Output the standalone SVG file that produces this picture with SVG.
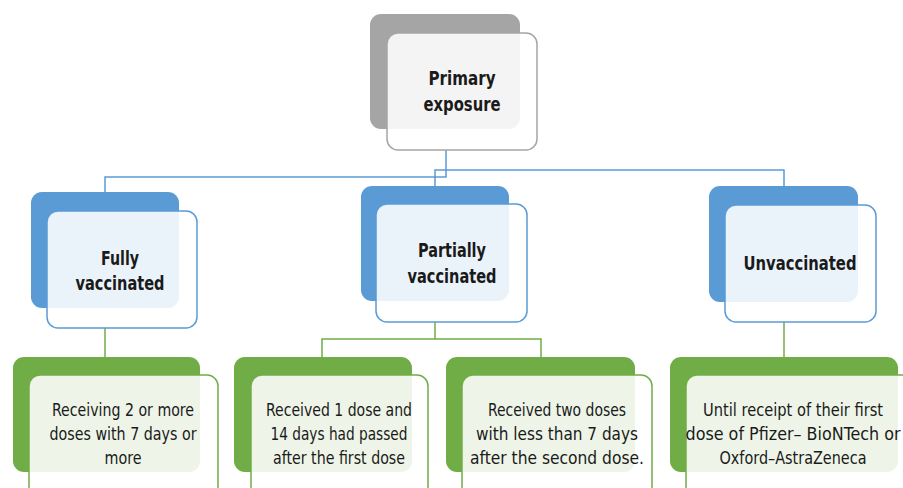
<svg xmlns="http://www.w3.org/2000/svg" width="903" height="488" viewBox="0 0 903 488">
<style>
.bg{fill:#ffffff}
.back-gray{fill:#a5a5a5}
.back-blue{fill:#5b9bd5}
.back-green{fill:#70ad47}
.front{fill:#ffffff;fill-opacity:0.88;stroke-width:1.5}
.f-gray{stroke:#a5a5a5}
.f-blue{stroke:#5b9bd5}
.f-green{stroke:#70ad47}
.conn-blue{fill:none;stroke:#5b9bd5;stroke-width:1.5}
.conn-green{fill:none;stroke:#70ad47;stroke-width:1.5}
text{font-family:"DejaVu Sans Condensed","Liberation Sans",sans-serif;fill:#1a1a1a;text-anchor:middle}
.h{font-size:20px;font-weight:bold}
.b{font-size:18px}
</style>
<rect class="bg" x="0" y="0" width="903" height="488"/>
<g id="connectors">
<polyline class="conn-blue" points="446,150 446,177 105,177 105,193"/>
<polyline class="conn-blue" points="435,188 435,170 784,170 784,187"/>
<polyline class="conn-green" points="105,328 105,357"/>
<polyline class="conn-green" points="435,322 435,339"/>
<polyline class="conn-green" points="322,357 322,339 541,339 541,357"/>
<polyline class="conn-green" points="784,322 784,357"/>
</g>
<g id="primary">
<rect class="back-gray" x="370" y="14" width="150" height="115" rx="11"/>
<rect class="front f-gray" x="387" y="33" width="150" height="117" rx="11"/>
<text class="h" x="462" y="85" textLength="67" lengthAdjust="spacingAndGlyphs">Primary</text>
<text class="h" x="462" y="111" textLength="77" lengthAdjust="spacingAndGlyphs">exposure</text>
</g>
<g id="fully">
<rect class="back-blue" x="31" y="192" width="148" height="116" rx="11"/>
<rect class="front f-blue" x="47" y="211" width="150" height="117" rx="11"/>
<text class="h" x="120" y="265" textLength="38" lengthAdjust="spacingAndGlyphs">Fully</text>
<text class="h" x="120" y="290" textLength="89" lengthAdjust="spacingAndGlyphs">vaccinated</text>
</g>
<g id="partially">
<rect class="back-blue" x="361" y="186" width="148" height="115" rx="11"/>
<rect class="front f-blue" x="376" y="204" width="151" height="118" rx="11"/>
<text class="h" x="452" y="257" textLength="68" lengthAdjust="spacingAndGlyphs">Partially</text>
<text class="h" x="452" y="283" textLength="89" lengthAdjust="spacingAndGlyphs">vaccinated</text>
</g>
<g id="unvaccinated">
<rect class="back-blue" x="709" y="186" width="149" height="116" rx="11"/>
<rect class="front f-blue" x="725" y="205" width="151" height="117" rx="11"/>
<text class="h" x="800" y="270" textLength="113" lengthAdjust="spacingAndGlyphs">Unvaccinated</text>
</g>
<g id="fully-detail">
<rect class="back-green" x="13" y="357" width="187" height="115" rx="11"/>
<rect class="front f-green" x="29" y="375" width="189" height="125" rx="11"/>
<text class="b" x="123" y="416" textLength="142" lengthAdjust="spacingAndGlyphs">Receiving 2 or more</text>
<text class="b" x="123" y="440" textLength="147" lengthAdjust="spacingAndGlyphs">doses with 7 days or</text>
<text class="b" x="123" y="464" textLength="37" lengthAdjust="spacingAndGlyphs">more</text>
</g>
<g id="partial-one">
<rect class="back-green" x="234" y="357" width="178" height="115" rx="11"/>
<rect class="front f-green" x="251" y="375" width="177" height="125" rx="11"/>
<text class="b" x="339" y="416" textLength="146" lengthAdjust="spacingAndGlyphs">Received 1 dose and</text>
<text class="b" x="339" y="440" textLength="137" lengthAdjust="spacingAndGlyphs">14 days had passed</text>
<text class="b" x="339" y="464" textLength="132" lengthAdjust="spacingAndGlyphs">after the first dose</text>
</g>
<g id="partial-two">
<rect class="back-green" x="446" y="357" width="189" height="115" rx="11"/>
<rect class="front f-green" x="462" y="375" width="190" height="125" rx="11"/>
<text class="b" x="557" y="416" textLength="138" lengthAdjust="spacingAndGlyphs">Received two doses</text>
<text class="b" x="557" y="440" textLength="162" lengthAdjust="spacingAndGlyphs">with less than 7 days</text>
<text class="b" x="557" y="464" textLength="174" lengthAdjust="spacingAndGlyphs">after the second dose.</text>
</g>
<g id="unvaccinated-detail">
<rect class="back-green" x="670" y="357" width="228" height="115" rx="11"/>
<rect class="front f-green" x="686" y="375" width="230" height="125" rx="11"/>
<text class="b" x="793" y="416" textLength="180" lengthAdjust="spacingAndGlyphs">Until receipt of their first</text>
<text class="b" x="793" y="440" textLength="215" lengthAdjust="spacingAndGlyphs">dose of Pfizer– BioNTech or</text>
<text class="b" x="793" y="464" textLength="147" lengthAdjust="spacingAndGlyphs">Oxford–AstraZeneca</text>
</g>
</svg>
